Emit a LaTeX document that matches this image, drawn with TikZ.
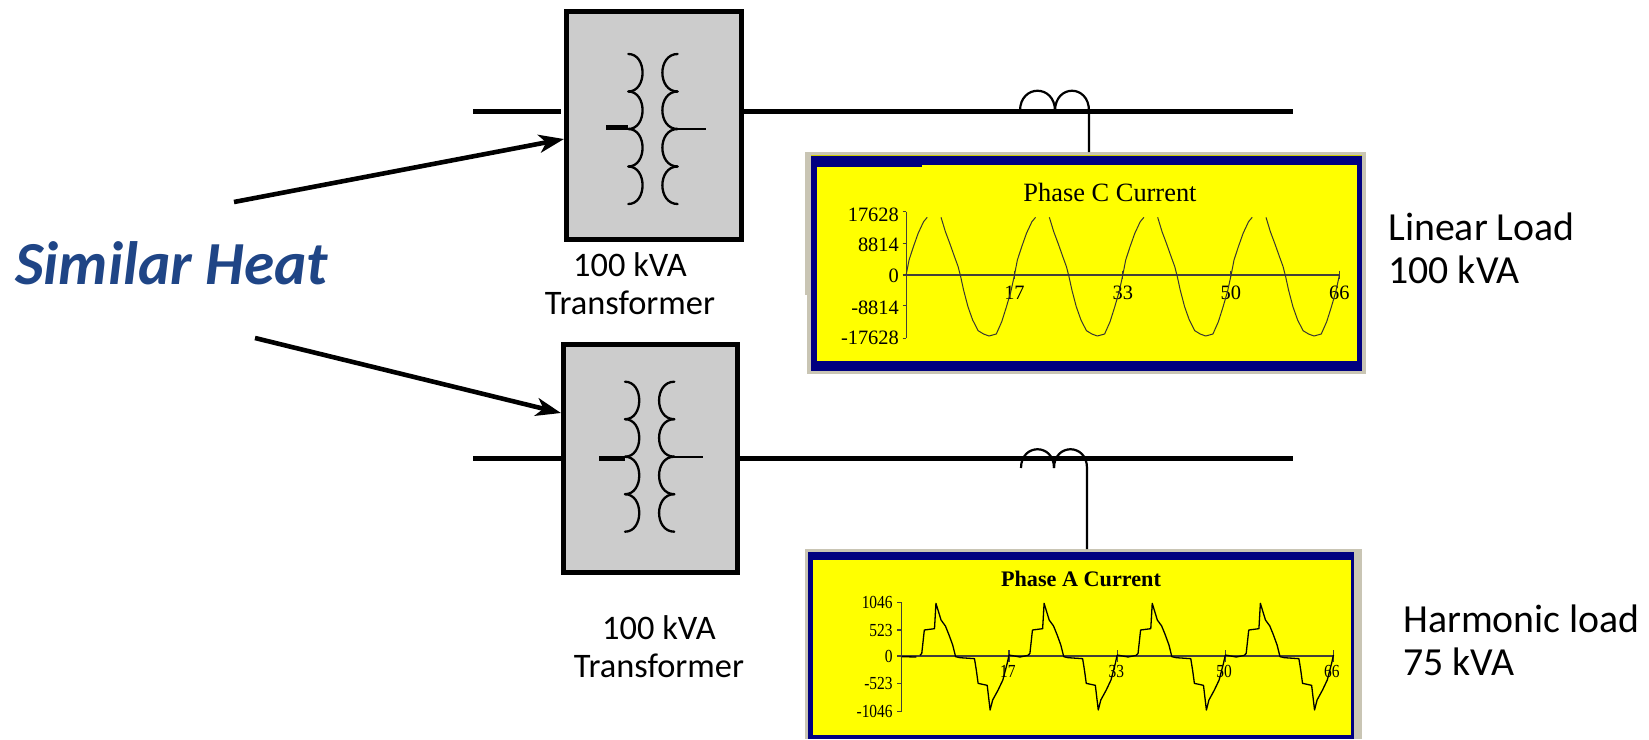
\documentclass[tikz,border=0pt]{standalone}
\usepackage{fontspec}
\setmainfont{Carlito}
\newfontfamily\chartfont{Liberation Serif}
\newfontfamily\chartnarrow[FakeStretch=0.84]{Liberation Serif}
\usetikzlibrary{arrows.meta,calc}
\definecolor{heatblue}{HTML}{1F4586}
\definecolor{boxgrey}{HTML}{CCCCCC}
\definecolor{panelbeige}{HTML}{C9C5B4}
\definecolor{panelnavy}{HTML}{000080}
\definecolor{panelyellow}{HTML}{FFFF00}
\tikzset{
  xfbox/.style={draw=black,line width=2.5pt,fill=boxgrey,inner sep=0pt,minimum width=#1},
  wire/.style={line width=2.5pt,black},
  heatarrow/.style={line width=2.3pt,black,-{Stealth[length=12.5pt,width=9pt,inset=3.5pt]}},
  coilline/.style={line width=1.15pt,black,line cap=round},
  ctline/.style={line width=1.1pt,black},
  plate/.style={inner sep=0pt,outer sep=0pt,draw=none},
  loadtext/.style={font=\fontsize{19.9pt}{21.4pt}\selectfont,align=left,anchor=base west,inner sep=0pt},
  xftext/.style={font=\fontsize{17.2pt}{18.6pt}\selectfont,align=center,anchor=base,inner sep=0pt},
  ctitle/.style={font=\chartfont\fontsize{13.2pt}{14pt}\selectfont,anchor=base,inner sep=0pt},
  dtitle/.style={font=\chartfont\bfseries\fontsize{11.1pt}{12pt}\selectfont,anchor=base,inner sep=0pt},
  ctick/.style={font=\chartfont\fontsize{10.2pt}{11pt}\selectfont,inner sep=0pt},
  dtick/.style={font=\chartnarrow\fontsize{9.2pt}{10pt}\selectfont,inner sep=0pt},
  axisline/.style={line width=.6pt,black!85!yellow},
  wave/.style={line width=.5pt,black!90!yellow,line join=round},
  wavebold/.style={line width=.65pt,black,line join=round},
}
\newcommand{\coilpair}{%
  \foreach \yy in {0,37.5,75,112.5}{
    \draw[coilline] (0,\yy) .. controls (19,\yy) and (19,\yy+37.5) .. (0,\yy+37.5);
    \draw[coilline] (49.3,\yy) .. controls (29,\yy) and (29,\yy+37.5) .. (49.3,\yy+37.5);
  }}
\begin{document}
\begin{tikzpicture}[x=.5pt,y=-.5pt]
\useasboundingbox (0,0) rectangle (1649,739);
% boxes
\node[xfbox=87.5pt,minimum height=114pt] (boxA) at (654,125.5) {};
\node[xfbox=87pt,minimum height=114pt] (boxB) at (650.5,458.5) {};
% coils
\begin{scope}[shift={(628.3,54)}]\coilpair\end{scope}
\begin{scope}[shift={(625,381.7)}]\coilpair\end{scope}
\draw[wire] (606,127.3) -- (628.3,127.3);
\draw[coilline,line cap=butt] (675,129) -- (705.7,129);
\draw[wire] (599,458) -- (625,458);
\draw[coilline,line cap=butt] (673.3,456.7) -- (702.7,456.7);
% wires
\coordinate (wA) at (473,111);
\coordinate (wAe) at (1293,111);
\coordinate (wB) at (473,458);
\coordinate (wBe) at (1293,458);
\draw[wire,shorten >=1.75pt] (wA) -- (wA -| boxA.west);
\draw[wire] (wA -| boxA.east) -- (wAe);
\draw[wire] (wB) -- (wB -| boxB.west);
\draw[wire] (wB -| boxB.east) -- (wBe);
% panels
\node[plate,fill=panelbeige,minimum width=280.5pt,minimum height=111pt] (pC) at (1085.5,263) {};
\fill[white] (805,295) rectangle (807,375);
\node[plate,fill=panelnavy,minimum width=275.25pt,minimum height=108pt] (pCn) at (1086.25,263) {};
\node[plate,fill=panelyellow,minimum width=270.25pt,minimum height=98pt] (pCy) at (1086.85,263) {};
\fill[panelnavy] (816.5,165) rectangle (922,166.5);
\fill[panelyellow!80!black] (811,154.6) rectangle (1361.5,155.6);
\node[plate,fill=panelbeige,minimum width=278.25pt,minimum height=95pt] (pD) at (1083.25,644) {};
\node[plate,fill=panelnavy,minimum width=272.75pt,minimum height=93.5pt] (pDn) at (1080.75,645.5) {};
\node[plate,fill=panelyellow,minimum width=269pt,minimum height=87.5pt] (pDy) at (1082,647) {};
% current transformers
\coordinate (ctA) at (1089,111);
\coordinate (ctB) at (1087,468);
\draw[ctline] (1020,111) .. controls (1020,84) and (1055,84) .. (1055,111);
\draw[ctline] (1055,111) .. controls (1055,84) and (ctA |- 0,84) .. (ctA) -- (ctA |- pC.north);
\draw[ctline] (1021,468) .. controls (1021,443) and (1054,443) .. (1054,468);
\draw[ctline] (1054,468) .. controls (1054,443) and (ctB |- 0,443) .. (ctB) -- (ctB |- pD.north);
% arrows
\coordinate (hA) at (234,202);
\coordinate (hB) at (255,338);
\coordinate (aA) at (564,139);
\coordinate (aB) at (561,413);
\draw[heatarrow] (hA) -- (aA -| boxA.west);
\draw[heatarrow] (hB) -- (aB -| boxB.west);
% texts
\node[anchor=base west,inner sep=0pt,text=heatblue,font=\fontsize{30.6pt}{33pt}\selectfont\bfseries\itshape] (heat) at (15,284) {Similar Heat};
\node[xftext] (xfA1) at (630,276) {100 kVA};
\node[xftext] (xfA2) at (630,314) {Transformer};
\node[xftext] (xfB1) at (659,639) {100 kVA};
\node[xftext] (xfB2) at (659,677) {Transformer};
\node[loadtext] (lA1) at (1388,240) {Linear Load};
\node[loadtext] (lA2) at (1388,283) {100 kVA};
\node[loadtext] (lB1) at (1403,632) {Harmonic load};
\node[loadtext] (lB2) at (1403,675) {75 kVA};
% chart C
\begin{scope}[shift={(800,140)},x=.18175pt,y=-.16667pt]
  \draw[axisline] (292,215) -- (292,595);
  \draw[axisline] (292,405) -- (1484,405);
  \foreach \v/\yy/\ly/\nm in {17628/215/225/a,8814/310/315/b,0/405/408/c,-8814/497/504/d,-17628/595/594/e}{
    \draw[axisline] (282,\yy) -- (292,\yy);
    \node[ctick,anchor=east] (cy\nm) at (273,\ly) {\v};
  }
  \foreach \v/\xx in {17/590,33/888,50/1185,66/1484}{
    \draw[axisline] (\xx,392) -- (\xx,418);
    \node[ctick] (cx\v) at (\xx,458) {\v};
  }
  \foreach \k in {0,1,2,3}{
    \begin{scope}[shift={(298*\k,0)}]
      \draw[wave] (292,405) -- (300,360) -- (312,320) -- (325,280) -- (340,245) -- (350,232);
      \draw[wave] (388,232) -- (400,275) -- (412,310) -- (425,350) -- (435,380) -- (442,410) -- (450,450) -- (462,500) -- (475,540) -- (490,572) -- (505,582) -- (520,588) -- (540,582) -- (555,545) -- (568,500) -- (580,455) -- (590,405);
    \end{scope}
  }
\end{scope}
\node[ctitle] (tC) at (1110,201) {Phase C Current};
% chart D
\begin{scope}[shift={(800,540)},x=.18175pt,y=-.16667pt]
  \draw[axisline,line width=.7pt] (280,188) -- (280,515);
  \draw[axisline,line width=.7pt] (280,348) -- (1467,348);
  \foreach \v/\yy/\nm in {1046/188/a,523/270/b,0/348/c,-523/430/d,-1046/515/e}{
    \draw[axisline] (268,\yy) -- (280,\yy);
    \node[dtick,anchor=east] (dy\nm) at (256,\yy) {\v};
  }
  \foreach \v/\xx in {17/575,33/873,50/1170,66/1467}{
    \draw[axisline] (\xx,330) -- (\xx,365);
  }
  \foreach \v/\xx in {17/572,33/870,50/1167,66/1463}{
    \node[dtick] (dx\v) at (\xx,395) {\v};
  }
  \foreach \k in {0,1,2,3}{
    \begin{scope}[shift={(297.5*\k,0)}]
      \draw[wavebold] (330,346) -- (335,340) -- (342,270) -- (370,266) -- (374,190) -- (388,240) -- (400,258) -- (410,285) -- (420,315) -- (428,350) -- (440,353) -- (480,356) -- (485,390) -- (490,430) -- (515,436) -- (523,510) -- (530,480) -- (545,450) -- (558,420) -- (570,370) -- (575,345);
    \end{scope}
  }
  \foreach \k in {0,1,2}{
    \draw[wavebold,shift={(297.5*\k,0)}] (575,345) -- (605,351) -- (628,346);
  }
  \draw[wavebold] (280,350) -- (320,351);
\end{scope}
\node[dtitle] (tD) at (1081,586) {Phase A Current};
\end{tikzpicture}
\end{document}
